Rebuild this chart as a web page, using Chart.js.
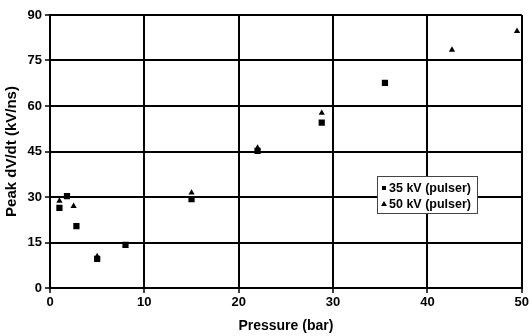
<!DOCTYPE html>
<html>
<head>
<meta charset="utf-8">
<script src="https://cdn.jsdelivr.net/npm/chart.js@4/dist/chart.umd.min.js"></script>
<style>
html,body{margin:0;padding:0;background:#fff;}
canvas{display:block;}
</style>
</head>
<body>
<canvas id="c" width="531" height="336"></canvas>
<script>
const seriesNames = ["35 kV (pulser)", "50 kV (pulser)"];
const pressure35 = [1, 1.8, 2.8, 5, 8, 15, 22, 28.8, 35.5];
const dvdt35     = [26.4, 30.3, 20.4, 9.6, 14.2, 29.3, 45.2, 54.5, 67.6];
const pressure50 = [1, 2.5, 5, 15, 22, 28.8, 42.6, 49.5];
const dvdt50     = [28.7, 27, 10.4, 31.4, 46.2, 57.7, 78.5, 84.7];
const xTicks = [0, 10, 20, 30, 40, 50];
const yTicks = [0, 15, 30, 45, 60, 75, 90];
const xTitle = "Pressure (bar)";
const yTitle = "Peak dV/dt (kV/ns)";

const toPts = (xs, ys) => xs.map((x, i) => ({x: x, y: ys[i]}));
const FONT = "'Liberation Sans', Arial, sans-serif";

const legendPlugin = {
  id: 'boxLegend',
  afterDraw(chart) {
    const ctx = chart.ctx;
    const L = 377, T = 176, W = 100, H = 37;
    ctx.save();
    ctx.fillStyle = '#fff';
    ctx.fillRect(L, T, W, H);
    ctx.strokeStyle = '#444';
    ctx.lineWidth = 1;
    ctx.strokeRect(L + 0.5, T + 0.5, W, H);
    ctx.font = "bold 12.5px " + FONT;
    ctx.textBaseline = 'middle';
    ctx.fillStyle = '#000';
    chart.data.datasets.forEach((ds, i) => {
      const cy = T + 12 + i * 16;
      const cx = L + 7;
      ctx.beginPath();
      if (ds.pointStyle === 'rect') {
        ctx.rect(cx - 2, cy - 2, 4, 4);
      } else {
        ctx.moveTo(cx, cy - 3);
        ctx.lineTo(cx + 3, cy + 2);
        ctx.lineTo(cx - 3, cy + 2);
        ctx.closePath();
      }
      ctx.fill();
      ctx.fillText(ds.label, L + 12, cy + 1);
    });
    ctx.restore();
  }
};

new Chart(document.getElementById('c'), {
  type: 'scatter',
  data: {
    datasets: [
      {label: seriesNames[0], data: toPts(pressure35, dvdt35), pointStyle: 'rect',
       pointRadius: 4.4, backgroundColor: '#000', borderColor: '#000', borderWidth: 0},
      {label: seriesNames[1], data: toPts(pressure50, dvdt50), pointStyle: 'triangle',
       pointRadius: 3.6, backgroundColor: '#000', borderColor: '#000', borderWidth: 0}
    ]
  },
  options: {
    responsive: false,
    animation: false,
    devicePixelRatio: 1,
    layout: {padding: {left: 0, right: 5, top: 15, bottom: 0}},
    plugins: {legend: {display: false}, tooltip: {enabled: false}},
    scales: {
      x: {
        type: 'linear', min: 0, max: 50,
        afterBuildTicks: s => { s.ticks = xTicks.map(v => ({value: v})); },
        afterFit: s => { s.height = 48; },
        grid: {color: '#000', lineWidth: 2, tickLength: 5, tickColor: '#000', tickWidth: 1.5},
        border: {color: '#000', width: 2},
        ticks: {color: '#000', font: {family: FONT, size: 13, weight: 'bold'}, padding: 2, maxRotation: 0},
        title: {display: true, text: xTitle, color: '#000', font: {family: FONT, size: 14, weight: 'bold'}, padding: {top: 0, bottom: 1}}
      },
      y: {
        type: 'linear', min: 0, max: 90,
        afterBuildTicks: s => { s.ticks = yTicks.map(v => ({value: v})); },
        afterFit: s => { s.width = 50; },
        grid: {color: '#000', lineWidth: 2, tickLength: 5, tickColor: '#000', tickWidth: 1.5},
        border: {color: '#000', width: 2},
        ticks: {color: '#000', font: {family: FONT, size: 13, weight: 'bold'}, padding: 3},
        title: {display: true, text: yTitle, color: '#000', font: {family: FONT, size: 15, weight: 'bold'}, padding: {top: 3, bottom: 0}}
      }
    }
  },
  plugins: [legendPlugin]
});
</script>
</body>
</html>
